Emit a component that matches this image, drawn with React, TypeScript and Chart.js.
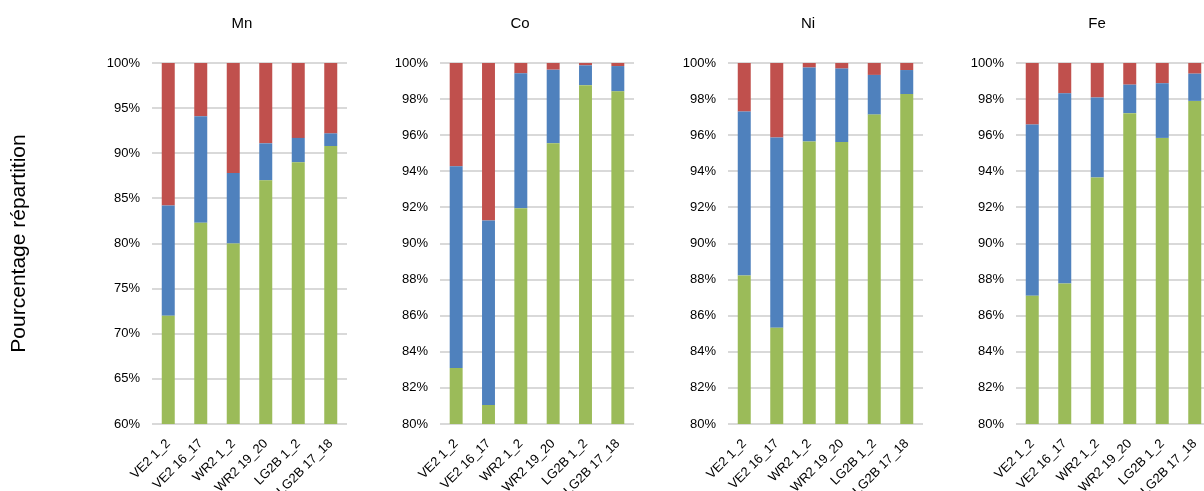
import React, { useEffect, useRef } from 'react';
import { Chart, registerables } from 'chart.js';

Chart.register(...registerables);

const categories = ['VE2 1_2', 'VE2 16_17', 'WR2 1_2', 'WR2 19_20', 'LG2B 1_2', 'LG2B 17_18'];

// Segment shares (%) per sample: green (bottom), blue (middle), red (top)
const mnGreen = [72.0, 82.3, 80.0, 87.0, 89.0, 90.8];
const mnBlue = [12.2, 11.8, 7.8, 4.1, 2.7, 1.4];
const mnRed = [15.8, 5.9, 12.2, 8.9, 8.3, 7.8];

const coGreen = [83.1, 81.05, 91.95, 95.55, 98.77, 98.43];
const coBlue = [11.18, 10.23, 7.48, 4.08, 1.1, 1.4];
const coRed = [5.72, 8.72, 0.57, 0.37, 0.13, 0.17];

const niGreen = [88.23, 85.33, 95.65, 95.63, 97.14, 98.28];
const niBlue = [9.08, 10.54, 4.1, 4.06, 2.2, 1.33];
const niRed = [2.69, 4.13, 0.25, 0.31, 0.66, 0.39];

const feGreen = [87.11, 87.79, 93.66, 97.22, 95.85, 97.9];
const feBlue = [9.48, 10.53, 4.43, 1.58, 3.03, 1.51];
const feRed = [3.41, 1.68, 1.91, 1.2, 1.12, 0.59];

const panelTitles = ['Mn', 'Co', 'Ni', 'Fe'];
const yMins = [60, 80, 80, 80];
const ySteps = [5, 2, 2, 2];
const yAxisTitle = 'Pourcentage répartition';

const GREEN = '#9BBB59';
const BLUE = '#4F81BD';
const RED = '#C0504D';
const FONT = "'Liberation Sans', Arial, sans-serif";

type Panel = {
  title: string;
  green: number[];
  blue: number[];
  red: number[];
  yMin: number;
  yStep: number;
  left: number;
  width: number;
  axisWidth: number;
  padRight: number;
  showYTitle: boolean;
};

const panels: Panel[] = [
  { title: panelTitles[0], green: mnGreen, blue: mnBlue, red: mnRed, yMin: yMins[0], yStep: ySteps[0], left: 0, width: 484, axisWidth: 152, padRight: 137, showYTitle: true },
  { title: panelTitles[1], green: coGreen, blue: coBlue, red: coRed, yMin: yMins[1], yStep: ySteps[1], left: 380, width: 280, axisWidth: 60, padRight: 26, showYTitle: false },
  { title: panelTitles[2], green: niGreen, blue: niBlue, red: niRed, yMin: yMins[2], yStep: ySteps[2], left: 668, width: 280, axisWidth: 60, padRight: 25, showYTitle: false },
  { title: panelTitles[3], green: feGreen, blue: feBlue, red: feRed, yMin: yMins[3], yStep: ySteps[3], left: 956, width: 282, axisWidth: 60, padRight: 27, showYTitle: false },
];

function PanelChart({ p }: { p: Panel }) {
  const ref = useRef<HTMLCanvasElement>(null);
  useEffect(() => {
    if (!ref.current) return;
    const chart = new Chart(ref.current, {
      type: 'bar',
      data: {
        labels: categories,
        datasets: [
          { label: 'Fraction 1', data: p.green, backgroundColor: GREEN, borderWidth: 0 },
          { label: 'Fraction 2', data: p.blue, backgroundColor: BLUE, borderWidth: 0 },
          { label: 'Fraction 3', data: p.red, backgroundColor: RED, borderWidth: 0 },
        ],
      },
      options: {
        responsive: false,
        animation: false,
        layout: { padding: 0 },
        plugins: {
          legend: { display: false },
          tooltip: { enabled: false },
          title: {
            display: true,
            text: p.title,
            color: '#000',
            font: { family: FONT, size: 15, weight: 'normal' },
            padding: { top: 15, bottom: 30 },
          },
        },
        datasets: { bar: { categoryPercentage: 0.8, barPercentage: 0.5 } },
        scales: {
          x: {
            stacked: true,
            grid: { display: false },
            border: { display: false },
            ticks: {
              autoSkip: false,
              minRotation: 45,
              maxRotation: 45,
              padding: 4,
              color: '#000',
              font: { family: FONT, size: 13 },
            },
            afterFit: (s: any) => { s.height = 67; },
          },
          y: {
            stacked: true,
            min: p.yMin,
            max: 100,
            grid: { color: '#D9D9D9', lineWidth: 2, drawTicks: false },
            border: { display: false },
            ticks: {
              stepSize: p.yStep,
              padding: 12,
              color: '#000',
              font: { family: FONT, size: 13 },
              callback: (v: any) => `${v}%`,
            },
            title: {
              display: p.showYTitle,
              text: yAxisTitle,
              color: '#000',
              font: { family: FONT, size: 21 },
              padding: { top: 7, bottom: 0 },
            },
            afterFit: (s: any) => { s.width = p.axisWidth; },
          },
          // spacer axis on the right, draws nothing
          yR: {
            type: 'linear',
            position: 'right',
            display: true,
            min: 0,
            max: 1,
            grid: { display: false, drawTicks: false },
            border: { display: false },
            ticks: { display: false },
            afterFit: (s: any) => { s.width = p.padRight; },
          },
        },
      },
    });
    return () => chart.destroy();
  }, [p]);
  return (
    <canvas
      ref={ref}
      width={p.width}
      height={491}
      style={{ position: 'absolute', left: p.left, top: 0, width: p.width, height: 491 }}
    />
  );
}

export default function App() {
  return (
    <div style={{ position: 'fixed', left: 0, top: 0, width: 1204, height: 491, overflow: 'hidden', background: '#fff' }}>
      {panels.map((p) => (
        <PanelChart key={p.title} p={p} />
      ))}
    </div>
  );
}
